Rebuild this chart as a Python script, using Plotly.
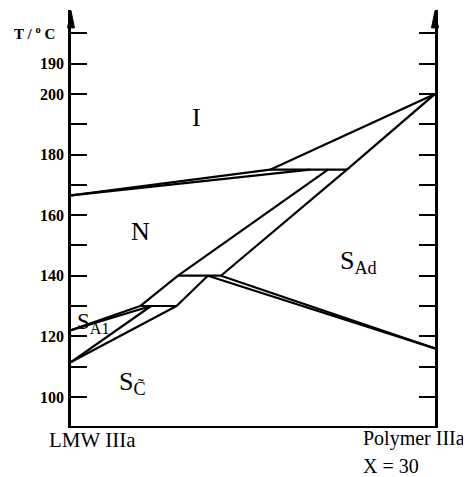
import plotly.graph_objects as go

# ---- data: phase boundaries (composition x from LMW=0 to Polymer=1, T in °C)
seg_x0 = [0.0, 0.0, 0.547, 0.547, 0.758, 0.706, 0.758, 0.294, 0.412, 0.376, 0.294, 0.376, 0.19, 0.0, 0.0, 0.0, 0.0]
seg_T0 = [166.5, 166.5, 175, 175, 175, 175, 175, 140, 140, 140, 140, 140, 130, 122, 122, 111.5, 111.5]
seg_x1 = [0.547, 0.657, 0.758, 1.0, 1.0, 0.294, 0.412, 0.412, 1.0, 1.0, 0.19, 0.29, 0.29, 0.19, 0.22, 0.22, 0.29]
seg_T1 = [175, 175, 175, 200, 200, 140, 140, 140, 116, 116, 130, 130, 130, 130, 130, 130, 130]

tick_vals = [100, 110, 120, 130, 140, 150, 160, 170, 180, 190, 200, 210, 220]
tick_text = ["100", "", "120", "", "140", "", "160", "", "180", "", "200", "190", ""]

phase_labels = ["I", "N", "S<sub>Ad</sub>", "S<sub>A1</sub>", "S<sub>C\u0303</sub>"]
label_x = [0.346, 0.19, 0.79, 0.06, 0.17]
label_T = [192.1, 154.5, 144.5, 124.4, 104.6]
label_size = [26, 26, 26, 23, 26]

xs, ys = [], []
for a, b, c, d in zip(seg_x0, seg_T0, seg_x1, seg_T1):
    xs += [a, c, None]
    ys += [b, d, None]

fig = go.Figure()
fig.add_trace(go.Scatter(x=xs, y=ys, mode="lines", line=dict(color="black", width=2.2),
                         hoverinfo="skip", showlegend=False))
fig.add_trace(go.Scatter(x=[1], y=[150], yaxis="y2", mode="markers",
                         marker=dict(opacity=0), showlegend=False, hoverinfo="skip"))

serif = "Liberation Serif"
for t, x, y, s in zip(phase_labels, label_x, label_T, label_size):
    fig.add_annotation(x=x, y=y, text=t, showarrow=False, xanchor="center", yanchor="middle",
                       font=dict(family=serif, size=s, color="black"))

fig.add_annotation(xref="paper", yref="paper", x=0.058, y=-0.034, text="LMW IIIa",
                   xanchor="center", yanchor="middle",
                   showarrow=False, font=dict(family=serif, size=21, color="black"))
fig.add_annotation(xref="paper", yref="paper", x=0.797, y=-0.03, xanchor="left",
                   yanchor="middle", text="Polymer IIIa", showarrow=False,
                   font=dict(family=serif, size=20, color="black"))
fig.add_annotation(xref="paper", yref="paper", x=0.797, y=-0.095, xanchor="left",
                   yanchor="middle", text="X = 30", showarrow=False,
                   font=dict(family=serif, size=20, color="black"))
fig.add_annotation(xref="paper", yref="paper", x=-0.10, y=0.945, xanchor="center",
                   yanchor="middle", text="<b>T / <sup>o</sup> C</b>", showarrow=False,
                   font=dict(family=serif, size=15, color="black"))

# axis arrows
for xp in (0.0, 1.0):
    fig.add_shape(type="path", xref="paper", yref="paper",
                  path=f"M {xp-0.0096} 0.957 L {xp} 0.998 L {xp+0.0096} 0.957 Z",
                  fillcolor="black", line=dict(color="black", width=1))

axis_common = dict(range=[90.4, 227.7], tickvals=tick_vals, ticks="inside", ticklen=16,
                   tickwidth=2, tickcolor="black", showgrid=False, zeroline=False,
                   showline=True, linecolor="black", linewidth=2.5)

fig.update_layout(
    width=471, height=477,
    margin=dict(l=63, r=44, t=2, b=59),
    paper_bgcolor="white", plot_bgcolor="white",
    xaxis=dict(range=[0, 1], showticklabels=False, ticks="", showgrid=False,
               zeroline=False, showline=True, linecolor="black", linewidth=2),
    yaxis=dict(**axis_common, ticktext=["<b>" + t + "</b>" if t else "" for t in tick_text],
               tickfont=dict(family=serif, size=16, color="black"), ticklabelstandoff=1),
    yaxis2=dict(**axis_common, overlaying="y", side="right", showticklabels=False),
)

fig.write_html("out.html")
